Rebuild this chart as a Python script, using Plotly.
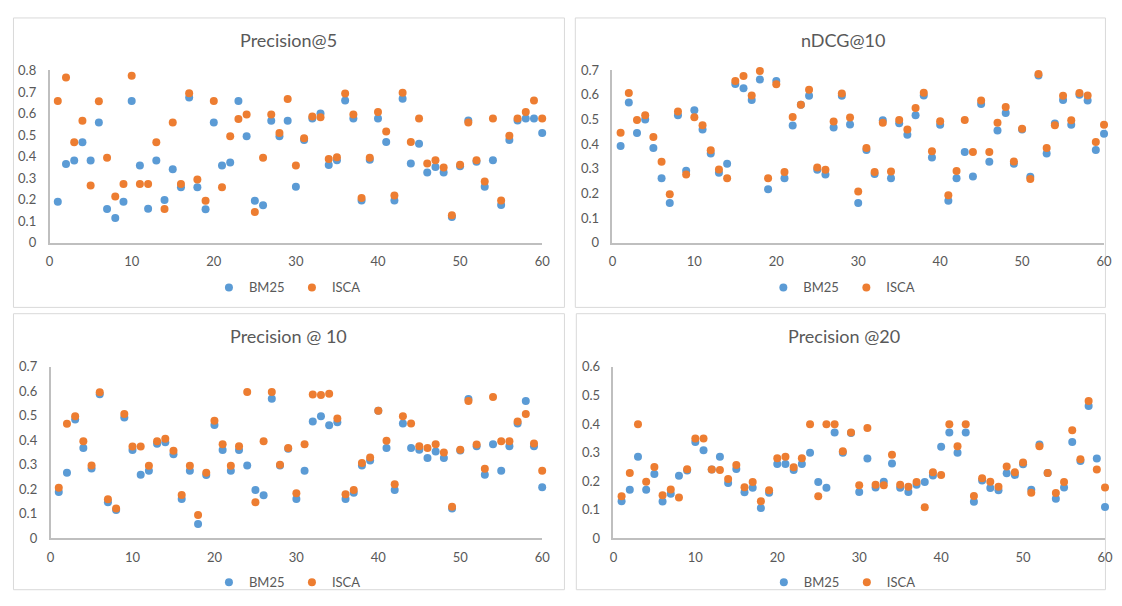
import plotly.graph_objects as go

# The page body keeps its default 8px margin, so the figure is drawn 16px smaller
# and every reference pixel position is shifted by OFF.
W, H = 1106, 590
OFF = 8
queries = list(range(1, 61))
series_names = ["BM25", "ISCA"]
titles = ["Precision@5", "nDCG@10", "Precision @ 10", "Precision @20"]

p5_bm25 = [0.19, 0.365, 0.382, 0.466, 0.382, 0.558, 0.157, 0.115, 0.19, 0.658,
           0.358, 0.158, 0.382, 0.198, 0.341, 0.258, 0.675, 0.258, 0.155, 0.558,
           0.358, 0.373, 0.658, 0.494, 0.195, 0.174, 0.566, 0.494, 0.566, 0.26,
           0.477, 0.577, 0.6, 0.361, 0.383, 0.661, 0.577, 0.196, 0.385, 0.577,
           0.468, 0.196, 0.669, 0.368, 0.46, 0.326, 0.352, 0.326, 0.119, 0.355,
           0.568, 0.376, 0.26, 0.383, 0.175, 0.477, 0.568, 0.577, 0.577, 0.509]
p5_isca = [0.658, 0.767, 0.466, 0.566, 0.266, 0.657, 0.394, 0.214, 0.273, 0.776,
           0.273, 0.273, 0.466, 0.157, 0.558, 0.273, 0.694, 0.293, 0.195, 0.658,
           0.258, 0.494, 0.575, 0.595, 0.143, 0.394, 0.595, 0.51, 0.667, 0.359,
           0.485, 0.586, 0.583, 0.389, 0.397, 0.693, 0.596, 0.207, 0.394, 0.607,
           0.516, 0.219, 0.697, 0.468, 0.577, 0.368, 0.383, 0.349, 0.128, 0.362,
           0.558, 0.383, 0.284, 0.577, 0.196, 0.497, 0.577, 0.607, 0.661, 0.577]

ndcg_bm25 = [0.392, 0.568, 0.445, 0.499, 0.384, 0.261, 0.161, 0.517, 0.292, 0.537,
             0.459, 0.361, 0.283, 0.32, 0.643, 0.626, 0.578, 0.661, 0.217, 0.655,
             0.261, 0.475, 0.559, 0.596, 0.296, 0.276, 0.467, 0.596, 0.479, 0.161,
             0.376, 0.278, 0.496, 0.261, 0.484, 0.437, 0.517, 0.597, 0.345, 0.478,
             0.17, 0.261, 0.368, 0.268, 0.562, 0.328, 0.455, 0.526, 0.32, 0.459,
             0.267, 0.678, 0.361, 0.483, 0.578, 0.478, 0.6, 0.576, 0.376, 0.442]
ndcg_isca = [0.446, 0.607, 0.497, 0.517, 0.428, 0.328, 0.196, 0.532, 0.276, 0.508,
             0.476, 0.375, 0.297, 0.261, 0.655, 0.676, 0.597, 0.696, 0.261, 0.642,
             0.286, 0.509, 0.559, 0.62, 0.305, 0.296, 0.491, 0.605, 0.507, 0.207,
             0.384, 0.286, 0.486, 0.289, 0.497, 0.459, 0.546, 0.608, 0.371, 0.492,
             0.192, 0.291, 0.497, 0.368, 0.576, 0.368, 0.486, 0.55, 0.329, 0.462,
             0.258, 0.684, 0.384, 0.476, 0.596, 0.496, 0.607, 0.597, 0.408, 0.478]

p10_bm25 = [0.189, 0.268, 0.485, 0.369, 0.285, 0.588, 0.147, 0.116, 0.493, 0.361,
            0.26, 0.276, 0.386, 0.392, 0.343, 0.161, 0.276, 0.059, 0.259, 0.462,
            0.361, 0.276, 0.361, 0.297, 0.197, 0.176, 0.569, 0.297, 0.366, 0.161,
            0.276, 0.477, 0.498, 0.461, 0.474, 0.161, 0.186, 0.297, 0.318, 0.52,
            0.369, 0.197, 0.469, 0.369, 0.362, 0.328, 0.354, 0.328, 0.122, 0.358,
            0.568, 0.376, 0.26, 0.384, 0.276, 0.376, 0.469, 0.56, 0.376, 0.209]
p10_isca = [0.207, 0.468, 0.498, 0.396, 0.297, 0.596, 0.16, 0.122, 0.507, 0.375,
            0.375, 0.296, 0.396, 0.406, 0.357, 0.177, 0.296, 0.096, 0.268, 0.48,
            0.384, 0.296, 0.376, 0.597, 0.147, 0.396, 0.597, 0.3, 0.369, 0.184,
            0.384, 0.587, 0.585, 0.59, 0.489, 0.18, 0.197, 0.308, 0.33, 0.52,
            0.398, 0.221, 0.498, 0.469, 0.376, 0.369, 0.384, 0.35, 0.129, 0.362,
            0.56, 0.383, 0.284, 0.577, 0.396, 0.396, 0.477, 0.507, 0.387, 0.276]

p20_bm25 = [0.13, 0.17, 0.285, 0.17, 0.225, 0.129, 0.156, 0.219, 0.237, 0.337,
            0.308, 0.241, 0.285, 0.194, 0.243, 0.161, 0.177, 0.106, 0.16, 0.26,
            0.26, 0.239, 0.26, 0.299, 0.197, 0.177, 0.37, 0.299, 0.368, 0.162,
            0.279, 0.178, 0.198, 0.262, 0.177, 0.162, 0.188, 0.197, 0.22, 0.32,
            0.37, 0.299, 0.37, 0.128, 0.202, 0.176, 0.168, 0.228, 0.222, 0.259,
            0.17, 0.328, 0.229, 0.139, 0.178, 0.337, 0.271, 0.463, 0.279, 0.11]
p20_isca = [0.147, 0.229, 0.399, 0.198, 0.25, 0.151, 0.171, 0.143, 0.242, 0.349,
            0.349, 0.241, 0.239, 0.208, 0.257, 0.179, 0.197, 0.13, 0.168, 0.28,
            0.285, 0.249, 0.28, 0.399, 0.147, 0.399, 0.399, 0.305, 0.37, 0.186,
            0.386, 0.188, 0.186, 0.292, 0.188, 0.181, 0.197, 0.109, 0.231, 0.222,
            0.399, 0.322, 0.399, 0.148, 0.21, 0.198, 0.181, 0.251, 0.231, 0.265,
            0.16, 0.322, 0.229, 0.159, 0.197, 0.378, 0.277, 0.48, 0.241, 0.178]

y_max = [0.8, 0.7, 0.7, 0.6]
data = [(p5_bm25, p5_isca), (ndcg_bm25, ndcg_isca), (p10_bm25, p10_isca), (p20_bm25, p20_isca)]
colors = ["#5B9BD5", "#ED7D31"]

FONT = "Lato, 'Open Sans', sans-serif"
TXT = "#595959"

# reference-pixel layout of each panel: plot area (x0, x1, ytop, ybottom), box (x0, x1, y0, y1)
plot_px = [(46, 544, 64, 241), (615, 1112, 63.5, 241), (47, 544, 368.5, 545), (616, 1113, 368.5, 545)]
box_px = [(9.5, 566.5, 10, 307.5), (577.5, 1119.5, 10, 307.5), (9.5, 566.5, 314, 604.5), (578.5, 1119.5, 314, 604.5)]
legend_y_px = [287, 287, 590, 590]

def px(x):
    return (x - OFF) / W

def py(y):
    return 1 - (y - OFF) / H

fig = go.Figure()
layout = dict(width=W, height=H, margin=dict(l=0, r=0, t=0, b=0),
              paper_bgcolor="white", plot_bgcolor="white",
              font=dict(family=FONT, color=TXT, size=13))
shapes, annotations = [], []

for i in range(4):
    xa = "x" if i == 0 else f"x{i+1}"
    ya = "y" if i == 0 else f"y{i+1}"
    lg = "legend" if i == 0 else f"legend{i+1}"
    for s in range(2):
        fig.add_trace(go.Scatter(
            x=queries, y=data[i][s], mode="markers", name=series_names[s],
            marker=dict(color=colors[s], size=8, line=dict(width=0)),
            xaxis=xa, yaxis=ya, legend=lg, cliponaxis=False))
    x0, x1, yt, yb = plot_px[i]
    xkey = "xaxis" if i == 0 else f"xaxis{i+1}"
    ykey = "yaxis" if i == 0 else f"yaxis{i+1}"
    layout[xkey] = dict(domain=[px(x0), px(x1)], range=[0, 60], dtick=10, tick0=0,
                        showgrid=False, zeroline=False, showline=True,
                        linecolor="#BFBFBF", linewidth=1.5, ticks="",
                        ticklabelstandoff=6, anchor=ya,
                        tickfont=dict(size=13, color=TXT, family=FONT))
    layout[ykey] = dict(domain=[py(yb), py(yt)], range=[0, y_max[i]], dtick=0.1, tick0=0,
                        showgrid=False, zeroline=False, showline=True,
                        linecolor="#BFBFBF", linewidth=1.5, ticks="",
                        ticklabelstandoff=9, anchor=xa,
                        tickfont=dict(size=13, color=TXT, family=FONT))
    bx0, bx1, by0, by1 = box_px[i]
    shapes.append(dict(type="rect", xref="paper", yref="paper",
                       x0=px(bx0), x1=min(px(bx1), 0.9995), y0=max(py(by1), 0.0005), y1=py(by0),
                       line=dict(color="#D9D9D9", width=1), layer="below"))
    cx = (bx0 + bx1) / 2
    annotations.append(dict(text=titles[i], xref="paper", yref="paper",
                            x=px(cx), y=py(by0 + 23), xanchor="center", yanchor="middle",
                            showarrow=False, font=dict(size=18, color=TXT, family=FONT)))
    layout[lg] = dict(orientation="h", x=px(cx + 3), y=py(legend_y_px[i]),
                      xanchor="center", yanchor="middle", bgcolor="rgba(0,0,0,0)",
                      itemwidth=30, entrywidth=38, entrywidthmode="pixels",
                      font=dict(size=13, color=TXT, family=FONT))

layout["shapes"] = shapes
layout["annotations"] = annotations
fig.update_layout(**layout)
fig.write_html("out.html", config={"displayModeBar": False})
